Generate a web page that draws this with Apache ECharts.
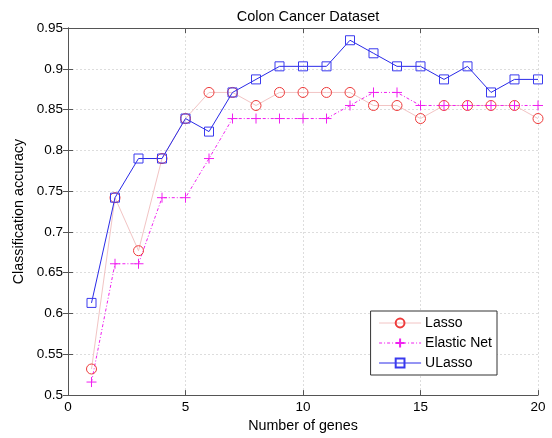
<!DOCTYPE html>
<html><head><meta charset="utf-8">
<script src="https://cdn.jsdelivr.net/npm/echarts@6/dist/echarts.min.js"></script>
<style>html,body{margin:0;padding:0;background:#fff}#c{width:552px;height:438px}</style>
</head><body><div id="c"></div>
<script>
var genes = [1,2,3,4,5,6,7,8,9,10,11,12,13,14,15,16,17,18,19,20];
var lasso = [0.532,0.742,0.677,0.790,0.839,0.871,0.871,0.855,0.871,0.871,0.871,0.871,0.855,0.855,0.839,0.855,0.855,0.855,0.855,0.839];
var elasticNet = [0.516,0.661,0.661,0.742,0.742,0.790,0.839,0.839,0.839,0.839,0.839,0.855,0.871,0.871,0.855,0.855,0.855,0.855,0.855,0.855];
var ulasso = [0.613,0.742,0.790,0.790,0.839,0.823,0.871,0.887,0.903,0.903,0.903,0.935,0.919,0.903,0.903,0.887,0.903,0.871,0.887,0.887];
var yTicks = [0.5,0.95,0.05];
var xTicks = [0,20,5];

function pairs(ys){ return genes.map(function(g,i){ return [g, ys[i]]; }); }
var FONT = 'Liberation Sans, Arial, sans-serif';
var axisCol = '#555';
var plusPath = 'path://M5,0 L5,10 M0,5 L10,5';

var chart = echarts.init(document.getElementById('c'));
chart.setOption({
  animation: false,
  backgroundColor: '#fff',
  title: { text: 'Colon Cancer Dataset', left: 303, textAlign: 'center', top: 4,
    textStyle: { fontFamily: FONT, fontSize: 14.5, fontWeight: 'normal', color: '#000' } },
  grid: { left: 68, right: 14, top: 28, bottom: 40 },
  legend: {
    orient: 'vertical', right: 55, bottom: 63, itemWidth: 42, itemHeight: 11, itemGap: 6,
    padding: [5, 5, 5, 8],
    backgroundColor: '#fff', borderColor: '#333', borderWidth: 1, borderRadius: 0,
    lineStyle: { width: 1 },
    textStyle: { fontFamily: FONT, fontSize: 14, color: '#000', padding: [0, 0, 0, -1] },
    data: ['Lasso', 'Elastic Net', 'ULasso']
  },
  xAxis: [{
    type: 'value', min: xTicks[0], max: xTicks[1], interval: xTicks[2],
    name: 'Number of genes', nameLocation: 'middle', nameGap: 19,
    nameTextStyle: { fontFamily: FONT, fontSize: 14.3, color: '#000' },
    axisLine: { lineStyle: { color: axisCol } },
    axisTick: { inside: true, length: 5, lineStyle: { color: axisCol } },
    axisLabel: { fontFamily: FONT, fontSize: 13.5, color: '#000', margin: 5 },
    splitLine: { show: true, lineStyle: { color: '#ddd', type: [2, 2] } }
  }, {
    type: 'value', position: 'top', min: xTicks[0], max: xTicks[1], interval: xTicks[2],
    axisLine: { lineStyle: { color: axisCol } },
    axisTick: { inside: true, length: 5, lineStyle: { color: axisCol } },
    axisLabel: { show: false }, splitLine: { show: false }
  }],
  yAxis: [{
    type: 'value', min: yTicks[0], max: yTicks[1], interval: yTicks[2],
    name: 'Classification accuracy', nameLocation: 'middle', nameGap: 38, nameRotate: 90,
    nameTextStyle: { fontFamily: FONT, fontSize: 14.3, color: '#000' },
    axisLine: { show: true, lineStyle: { color: axisCol } },
    axisTick: { show: true, inside: true, length: 5, lineStyle: { color: axisCol } },
    axisLabel: { fontFamily: FONT, fontSize: 13.5, color: '#000', margin: 5,
      formatter: function(v){ return String(+v.toFixed(2)); } },
    splitLine: { show: true, lineStyle: { color: '#ddd', type: [2, 2] } }
  }, {
    type: 'value', position: 'right', min: yTicks[0], max: yTicks[1], interval: yTicks[2],
    axisLine: { show: true, lineStyle: { color: axisCol } },
    axisTick: { show: true, inside: true, length: 5, lineStyle: { color: axisCol } },
    axisLabel: { show: false }, splitLine: { show: false }
  }],
  series: [{
    name: 'Lasso', type: 'line', data: pairs(lasso),
    symbol: 'circle', symbolSize: 10, showAllSymbol: true,
    lineStyle: { color: '#f2c4c4', width: 1 },
    itemStyle: { color: 'rgba(0,0,0,0)', borderColor: '#ee3b3b', borderWidth: 1 }
  }, {
    name: 'Elastic Net', type: 'line', data: pairs(elasticNet),
    symbol: plusPath, symbolSize: 10, showAllSymbol: true,
    lineStyle: { color: '#f020f0', width: 1, type: [3, 2, 1, 2] },
    itemStyle: { color: 'rgba(0,0,0,0)', borderColor: '#f020f0', borderWidth: 1 }
  }, {
    name: 'ULasso', type: 'line', data: pairs(ulasso),
    symbol: 'rect', symbolSize: 9, showAllSymbol: true,
    lineStyle: { color: '#2a2ae8', width: 1 },
    itemStyle: { color: 'rgba(0,0,0,0)', borderColor: '#3a3aee', borderWidth: 1 }
  }]
});
</script></body></html>
